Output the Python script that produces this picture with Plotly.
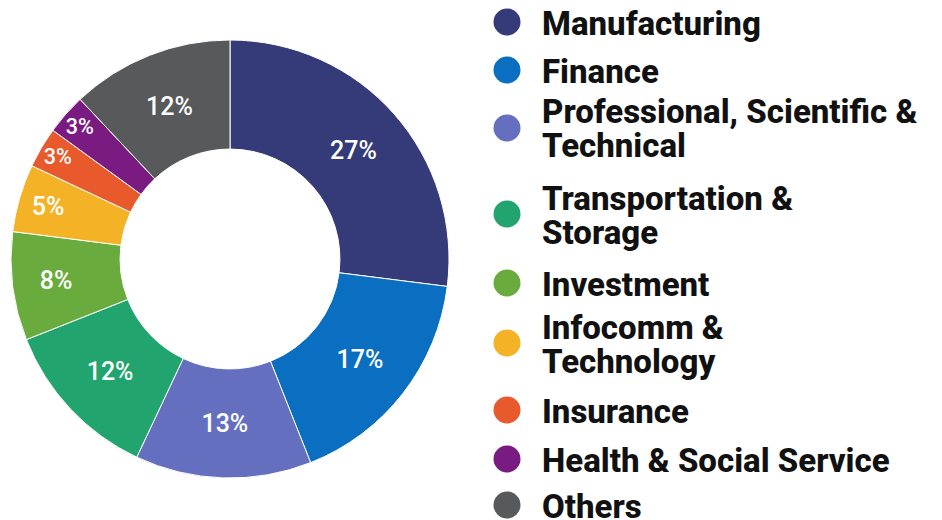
import plotly.graph_objects as go

categories = ["Manufacturing", "Finance", "Professional, Scientific &|Technical",
              "Transportation &|Storage", "Investment", "Infocomm &|Technology",
              "Insurance", "Health & Social Service", "Others"]
shares = [27, 17, 13, 12, 8, 5, 3, 3, 12]
colors = ["#353b78", "#0a6fc1", "#6470bf", "#22a46e", "#6aab3d", "#f4b226",
          "#e8592b", "#7a1b82", "#58595b"]

# layout constants (reference pixels from top-left; page body adds an 8px offset)
W, H = 942, 520
OFF = 8
legend_rows = [22, 70, 128, 214, 283, 343, 410, 459, 505]
LINE_STEP = 34


def px(x):
    return (x - OFF) / W


def py(y):
    return 1 - (y - OFF) / H


fig = go.Figure()
fig.add_trace(go.Pie(
    labels=[c.replace("|", " ") for c in categories], values=shares, sort=False,
    direction="clockwise", rotation=0,
    hole=0.502, marker=dict(colors=colors, line=dict(color="white", width=1)),
    texttemplate="%{value}%", textposition="inside", insidetextorientation="horizontal",
    textfont=dict(family="Roboto", size=25, color="white", weight=500),
    showlegend=False, hoverinfo="label+percent",
    domain=dict(x=[px(11), px(449)], y=[py(478), py(40)]),
))

shapes = []
annotations = []
r = 13.5
cx = 507
for cat, col, yc in zip(categories, colors, legend_rows):
    shapes.append(dict(type="circle", xref="paper", yref="paper",
                       x0=px(cx - r), x1=px(cx + r),
                       y0=py(yc + r), y1=py(yc - r),
                       fillcolor=col, line=dict(width=0)))
    lines = cat.split("|")
    n = len(lines)
    for i, ln in enumerate(lines):
        ly = yc + (i - (n - 1) / 2) * LINE_STEP
        annotations.append(dict(text=ln, xref="paper", yref="paper", x=px(540), y=py(ly + 1),
                                xanchor="left", yanchor="middle", align="left", showarrow=False,
                                font=dict(family="Roboto", size=33, color="#111111", weight=800)))

fig.update_layout(width=W, height=H, margin=dict(l=0, r=0, t=0, b=0),
                  paper_bgcolor="white", plot_bgcolor="white",
                  shapes=shapes, annotations=annotations)
fig.write_html("out.html")
